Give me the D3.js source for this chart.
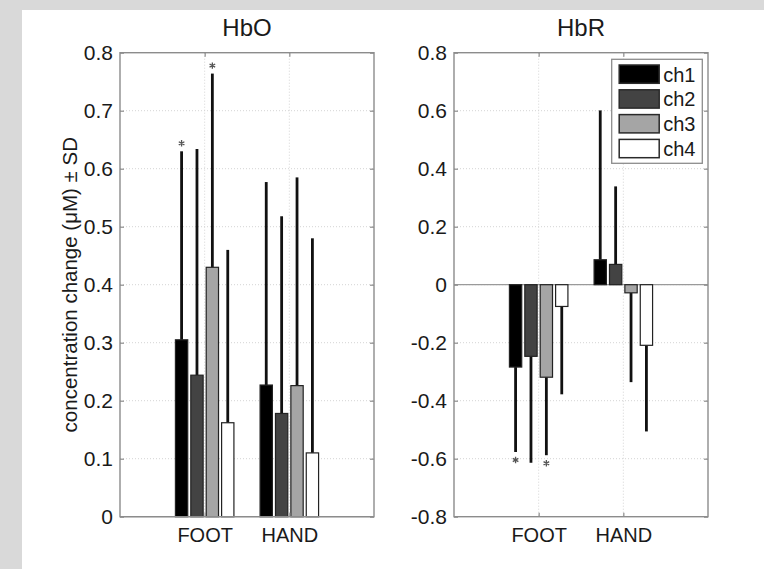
<!DOCTYPE html>
<html>
<head>
<meta charset="utf-8">
<script src="https://cdn.jsdelivr.net/npm/d3@7"></script>
<style>
  html, body { margin: 0; padding: 0; background: #d9d9d9; }
  svg { display: block; }
  text { font-family: "Liberation Sans", Arial, Helvetica, sans-serif; fill: #1a1a1a; }
</style>
</head>
<body>
<svg id="chart" width="764" height="569"></svg>
<script>
// Conditions and channels
const categories = ["FOOT", "HAND"];
const channels = ["ch1", "ch2", "ch3", "ch4"];
const channelColors = ["#000000", "#434343", "#a5a5a5", "#ffffff"];

// HbO mean change (µM) and SD per channel
const hboFoot   = [0.305, 0.244, 0.430, 0.162];
const hboHand   = [0.227, 0.178, 0.226, 0.110];
const hboFootSD = [0.325, 0.390, 0.334, 0.298];
const hboHandSD = [0.350, 0.340, 0.359, 0.370];
const hboFootSig = [1, 0, 1, 0];
const hboHandSig = [0, 0, 0, 0];

// HbR mean change (µM) and SD per channel
const hbrFoot   = [-0.284, -0.247, -0.319, -0.075];
const hbrHand   = [0.086, 0.070, -0.028, -0.209];
const hbrFootSD = [0.293, 0.367, 0.269, 0.303];
const hbrHandSD = [0.515, 0.269, 0.308, 0.297];
const hbrFootSig = [1, 0, 1, 0];
const hbrHandSig = [0, 0, 0, 0];

// Axis ticks
const hboTicks = [0, 0.1, 0.2, 0.3, 0.4, 0.5, 0.6, 0.7, 0.8];
const hboTickLabels = ["0", "0.1", "0.2", "0.3", "0.4", "0.5", "0.6", "0.7", "0.8"];
const hbrTicks = [-0.8, -0.6, -0.4, -0.2, 0, 0.2, 0.4, 0.6, 0.8];
const hbrTickLabels = ["-0.8", "-0.6", "-0.4", "-0.2", "0", "0.2", "0.4", "0.6", "0.8"];

const svg = d3.select("#chart");
svg.append("rect").attr("x", 0).attr("y", 0).attr("width", 764).attr("height", 569).attr("fill", "#d9d9d9");
svg.append("rect").attr("x", 22).attr("y", 10).attr("width", 742).attr("height", 559).attr("fill", "#ffffff");

const axisColor = "#8c8c8c";
const plotTop = 52.7, plotBottom = 516.7;

function buildRows(means, sds, sigs) {
  return means.map((m, i) => ({ ch: i, mean: m, sd: sds[i], sig: sigs[i] }));
}

function drawPanel(opts) {
  const { left, right, domain, ticks, tickLabels, title, groups } = opts;
  const x = d3.scaleLinear().domain([0, 3]).range([left, right]);
  const y = d3.scaleLinear().domain(domain).range([plotBottom, plotTop]);
  const g = svg.append("g");

  // grid
  const grid = g.append("g").attr("stroke", "#d4d4d4").attr("stroke-width", 1).attr("stroke-dasharray", "1,2");
  grid.selectAll("line.h").data(ticks.filter(t => t !== domain[0] && t !== domain[1]))
    .join("line").attr("x1", left).attr("x2", right)
    .attr("y1", d => y(d)).attr("y2", d => y(d));
  grid.selectAll("line.v").data([1, 2])
    .join("line").attr("x1", d => x(d)).attr("x2", d => x(d))
    .attr("y1", plotTop).attr("y2", plotBottom);

  // grouped bar geometry (4 bars per group)
  const n = channels.length;
  const groupWidth = n / (n + 1.5);
  const step = groupWidth / n;
  const barW = 0.8 * step;
  const offset = i => (i - (n - 1) / 2) * step;

  // zero baseline
  g.append("line").attr("x1", left).attr("x2", right)
    .attr("y1", y(0)).attr("y2", y(0))
    .attr("stroke", "#9a9a9a").attr("stroke-width", 1.2);

  groups.forEach((rows, gi) => {
    const cx = gi + 1;
    const gg = g.append("g");
    // error lines (one-sided, away from zero)
    gg.selectAll("line.err").data(rows).join("line")
      .attr("x1", d => x(cx + offset(d.ch))).attr("x2", d => x(cx + offset(d.ch)))
      .attr("y1", d => y(d.mean))
      .attr("y2", d => y(d.mean + Math.sign(d.mean) * d.sd))
      .attr("stroke", "#111").attr("stroke-width", 2.8);
    // bars
    gg.selectAll("rect").data(rows).join("rect")
      .attr("x", d => x(cx + offset(d.ch) - barW / 2))
      .attr("width", d => x(barW) - x(0))
      .attr("y", d => y(Math.max(0, d.mean)))
      .attr("height", d => Math.abs(y(d.mean) - y(0)))
      .attr("fill", d => channelColors[d.ch])
      .attr("stroke", "#222").attr("stroke-width", 1.2);
    // significance markers just beyond the error line
    gg.selectAll("path.sig").data(rows.filter(d => d.sig)).join("path")
      .attr("transform", d => {
        const s = Math.sign(d.mean);
        return `translate(${x(cx + offset(d.ch))},${y(d.mean + s * d.sd) - s * 8})`;
      })
      .attr("d", "M0,-3.2L0,3.2M-2.8,-1.6L2.8,1.6M-2.8,1.6L2.8,-1.6")
      .attr("stroke", "#555").attr("stroke-width", 1.3).attr("fill", "none");
  });

  // axes (inward ticks on all four sides)
  const fmt = d => tickLabels[ticks.indexOf(d)];
  const ax = g.append("g").attr("transform", `translate(${left},0)`)
    .call(d3.axisLeft(y).tickValues(ticks).tickFormat(fmt).tickSize(-4).tickPadding(7));
  ax.selectAll("text").style("font-size", "21px").attr("fill", "#1a1a1a");
  g.append("g").attr("transform", `translate(${right},0)`)
    .call(d3.axisRight(y).tickValues(ticks).tickFormat("").tickSize(-4));
  const bx = g.append("g").attr("transform", `translate(0,${plotBottom})`)
    .call(d3.axisBottom(x).tickValues([1, 2]).tickFormat((d, i) => categories[i]).tickSize(-4).tickPadding(11));
  bx.selectAll("text").style("font-size", "20px").attr("fill", "#1a1a1a");
  g.append("g").attr("transform", `translate(0,${plotTop})`)
    .call(d3.axisTop(x).tickValues([1, 2]).tickFormat("").tickSize(-4));
  g.selectAll(".domain").remove();
  g.selectAll(".tick line").attr("stroke", axisColor).attr("stroke-width", 1.2);
  g.append("rect").attr("x", left).attr("y", plotTop)
    .attr("width", right - left).attr("height", plotBottom - plotTop)
    .attr("fill", "none").attr("stroke", axisColor).attr("stroke-width", 1.4);

  // title
  g.append("text").attr("x", (left + right) / 2).attr("y", 36)
    .attr("text-anchor", "middle").style("font-size", "24px").text(title);
  return { x, y };
}

drawPanel({
  left: 120, right: 374, domain: [0, 0.8], ticks: hboTicks, tickLabels: hboTickLabels, title: "HbO",
  groups: [buildRows(hboFoot, hboFootSD, hboFootSig), buildRows(hboHand, hboHandSD, hboHandSig)]
});
drawPanel({
  left: 454, right: 708, domain: [-0.8, 0.8], ticks: hbrTicks, tickLabels: hbrTickLabels, title: "HbR",
  groups: [buildRows(hbrFoot, hbrFootSD, hbrFootSig), buildRows(hbrHand, hbrHandSD, hbrHandSig)]
});

// y-axis label
svg.append("text")
  .attr("transform", "translate(77,284.7) rotate(-90)")
  .attr("text-anchor", "middle")
  .style("font-size", "20.5px")
  .text("concentration change (\u03BCM) \u00B1 SD");

// legend
const legend = svg.append("g").attr("transform", "translate(611.7,59.3)");
legend.append("rect").attr("width", 90.6).attr("height", 104).attr("fill", "#fff")
  .attr("stroke", axisColor).attr("stroke-width", 1.3);
const items = legend.selectAll("g.item").data(channels).join("g")
  .attr("transform", (d, i) => `translate(7.5,${5.7 + i * 24.8})`);
items.append("rect").attr("width", 40).attr("height", 18.3)
  .attr("fill", (d, i) => channelColors[i]).attr("stroke", "#2a2a2a").attr("stroke-width", 1.5);
items.append("text").attr("x", 44).attr("y", 9.5).attr("dominant-baseline", "central")
  .style("font-size", "20px").text(d => d);
</script>
</body>
</html>
